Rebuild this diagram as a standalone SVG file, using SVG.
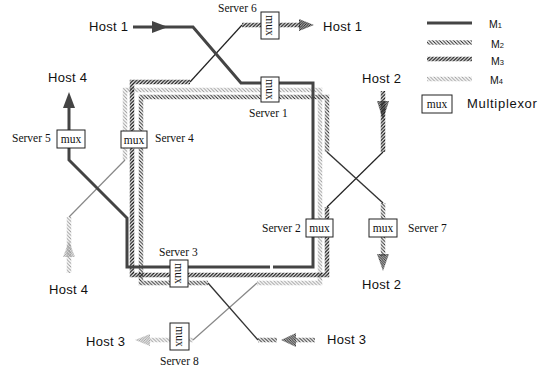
<svg xmlns="http://www.w3.org/2000/svg" width="547" height="375" viewBox="0 0 547 375">
<style>
.m1{fill:none;stroke:#444;stroke-width:3}
.h2{fill:none;stroke:url(#p2);stroke-width:4.5}
.h3{fill:none;stroke:url(#p3);stroke-width:4.5}
.h4{fill:none;stroke:url(#p4);stroke-width:4.5}
.d2{fill:none;stroke:#333;stroke-width:1.4}
.d3{fill:none;stroke:#222;stroke-width:1.2}
.d4{fill:none;stroke:#888;stroke-width:1.2}
.box{fill:#fff;stroke:#222;stroke-width:1}
.mux{font-family:"Liberation Serif","Times New Roman",serif;font-size:11.5px;fill:#111;text-anchor:middle;dominant-baseline:central}
.srv{font-family:"Liberation Serif","Times New Roman",serif;font-size:11.5px;fill:#111}
.host{font-family:"Liberation Sans",Arial,sans-serif;font-size:13px;fill:#111;letter-spacing:0.3px}
.leg{font-family:"Liberation Sans",Arial,sans-serif;font-size:10.5px;fill:#111}
</style>
<defs>
<pattern id="p2" width="3.5" height="3.5" patternUnits="userSpaceOnUse">
<path d="M-1,2.5 L1,4.5 M0,0 L3.5,3.5 M2.5,-1 L4.5,1" stroke="#222" stroke-width="1"/>
</pattern>
<pattern id="p3" width="3.5" height="3.5" patternUnits="userSpaceOnUse">
<path d="M-1,1 L1,-1 M0,3.5 L3.5,0 M2.5,4.5 L4.5,2.5" stroke="#111" stroke-width="1.3"/>
</pattern>
<pattern id="p4" width="3.5" height="3.5" patternUnits="userSpaceOnUse">
<path d="M-1,2.5 L1,4.5 M0,0 L3.5,3.5 M2.5,-1 L4.5,1" stroke="#999" stroke-width="1"/>
</pattern>
<pattern id="pa2" width="2.5" height="2.5" patternUnits="userSpaceOnUse">
<path d="M-1,1.5 L1,3.5 M0,0 L2.5,2.5 M1.5,-1 L3.5,1" stroke="#333" stroke-width="1.1"/>
</pattern>
<pattern id="pa3" width="2.5" height="2.5" patternUnits="userSpaceOnUse">
<path d="M-1,1 L1,-1 M0,2.5 L2.5,0 M1.5,3.5 L3.5,1.5" stroke="#222" stroke-width="1.1"/>
</pattern>
<pattern id="pa4" width="2.5" height="2.5" patternUnits="userSpaceOnUse">
<path d="M-1,1 L1,-1 M0,2.5 L2.5,0 M1.5,3.5 L3.5,1.5" stroke="#999" stroke-width="1"/>
</pattern>
</defs>
<rect width="547" height="375" fill="#fff"/>

<g id="connectors">
<!-- M4 -->
<path class="h4" d="M69,273 L69,217"/>
<path class="d4" d="M69,217 L125,160"/>
<path class="h4" d="M125,160 L125,90 L320,90 L320,283 L257,283"/>
<path class="d4" d="M257,283 L193,340"/>
<path class="h4" d="M193,340 L150,340"/>
<polygon points="63,257 75,257 69,241" fill="url(#pa4)"/>
<polygon points="150,334 150,346 135,340" fill="url(#pa4)"/>
<!-- M3 -->
<path class="h3" d="M383,91 L383,152"/>
<path class="d3" d="M383,152 L327,207"/>
<path class="h3" d="M327,207 L327,275 L132,275 L132,82 L190,82"/>
<path class="d3" d="M190,82 L242,25"/>
<path class="h3" d="M242,25 L300,25"/>
<polygon points="377,101 389,101 383,120" fill="url(#pa3)"/>
<polygon points="299,19 299,31 314,25" fill="url(#pa3)"/>
<!-- M2 -->
<path class="h2" d="M208,283 L141,283 L141,97 L327,97 L327,152"/>
<path class="d2" d="M327,152 L383,203"/>
<path class="h2" d="M383,203 L383,256"/>
<polygon points="377,254 389,254 383,271" fill="url(#pa2)"/>
<path class="d2" d="M208,283 L258,340"/>
<path class="h2" d="M258,340 L277,340 M296,340 L315,340"/>
<polygon points="281,340 296,333 296,347" fill="url(#pa2)"/>
<!-- M1 -->
<path class="m1" d="M133,27 L193,27 L241,83 L313,83 L313,267 L273,267 M270,267 L127,267 L127,218 L69,160 L69,107"/>
<polygon points="152,21 168,27 152,33" fill="#444"/>
<polygon points="63,108 69,92 75,108" fill="#444"/>
</g>

<g id="server6"><rect class="box" x="261" y="12" width="18" height="27"/><text class="mux" transform="translate(270,25.5) rotate(90)">mux</text><text class="srv" x="218" y="12">Server 6</text></g>
<g id="server1"><rect class="box" x="261" y="77" width="18" height="25"/><text class="mux" transform="translate(270,89.5) rotate(90)">mux</text><text class="srv" x="249" y="117">Server 1</text></g>
<g id="server5"><rect class="box" x="57" y="130" width="28" height="18"/><text class="mux" x="71" y="139">mux</text><text class="srv" x="12" y="142">Server 5</text></g>
<g id="server4"><rect class="box" x="121" y="131" width="26" height="17"/><text class="mux" x="134" y="139.5">mux</text><text class="srv" x="155" y="142">Server 4</text></g>
<g id="server2"><rect class="box" x="306" y="219" width="27" height="18"/><text class="mux" x="319.5" y="228">mux</text><text class="srv" x="262" y="232">Server 2</text></g>
<g id="server7"><rect class="box" x="369" y="219" width="28" height="18"/><text class="mux" x="383" y="228">mux</text><text class="srv" x="408" y="232">Server 7</text></g>
<g id="server3"><rect class="box" x="170" y="260" width="18" height="27"/><text class="mux" transform="translate(179,273.5) rotate(90)">mux</text><text class="srv" x="159" y="256">Server 3</text></g>
<g id="server8"><rect class="box" x="170" y="323" width="19" height="27"/><text class="mux" transform="translate(179.5,336.5) rotate(90)">mux</text><text class="srv" x="160" y="365">Server 8</text></g>

<g id="host1-left"><text class="host" x="89" y="31">Host 1</text></g>
<g id="host1-right"><text class="host" x="323" y="31">Host 1</text></g>
<g id="host4-top"><text class="host" x="48" y="82">Host 4</text></g>
<g id="host2-top"><text class="host" x="362" y="83">Host 2</text></g>
<g id="host2-bottom"><text class="host" x="362" y="289">Host 2</text></g>
<g id="host4-bottom"><text class="host" x="49" y="294">Host 4</text></g>
<g id="host3-left"><text class="host" x="86" y="346">Host 3</text></g>
<g id="host3-right"><text class="host" x="327" y="344">Host 3</text></g>

<g id="legend">
<line class="m1" x1="427" y1="23" x2="472" y2="23"/>
<line class="h2" x1="427" y1="42.5" x2="472" y2="42.5"/>
<line class="h3" x1="427" y1="59" x2="472" y2="59"/>
<line class="h4" x1="427" y1="79" x2="472" y2="79"/>
<text class="leg" x="489" y="28">M<tspan font-size="7.5">1</tspan></text>
<text class="leg" x="491" y="48">M<tspan font-size="7.5">2</tspan></text>
<text class="leg" x="491" y="65">M<tspan font-size="7.5">3</tspan></text>
<text class="leg" x="490" y="84">M<tspan font-size="7.5">4</tspan></text>
<rect class="box" x="422" y="95" width="30" height="18"/>
<text class="mux" x="437" y="104">mux</text>
<text class="host" x="467" y="108" style="letter-spacing:0.7px">Multiplexor</text>
</g>
</svg>
